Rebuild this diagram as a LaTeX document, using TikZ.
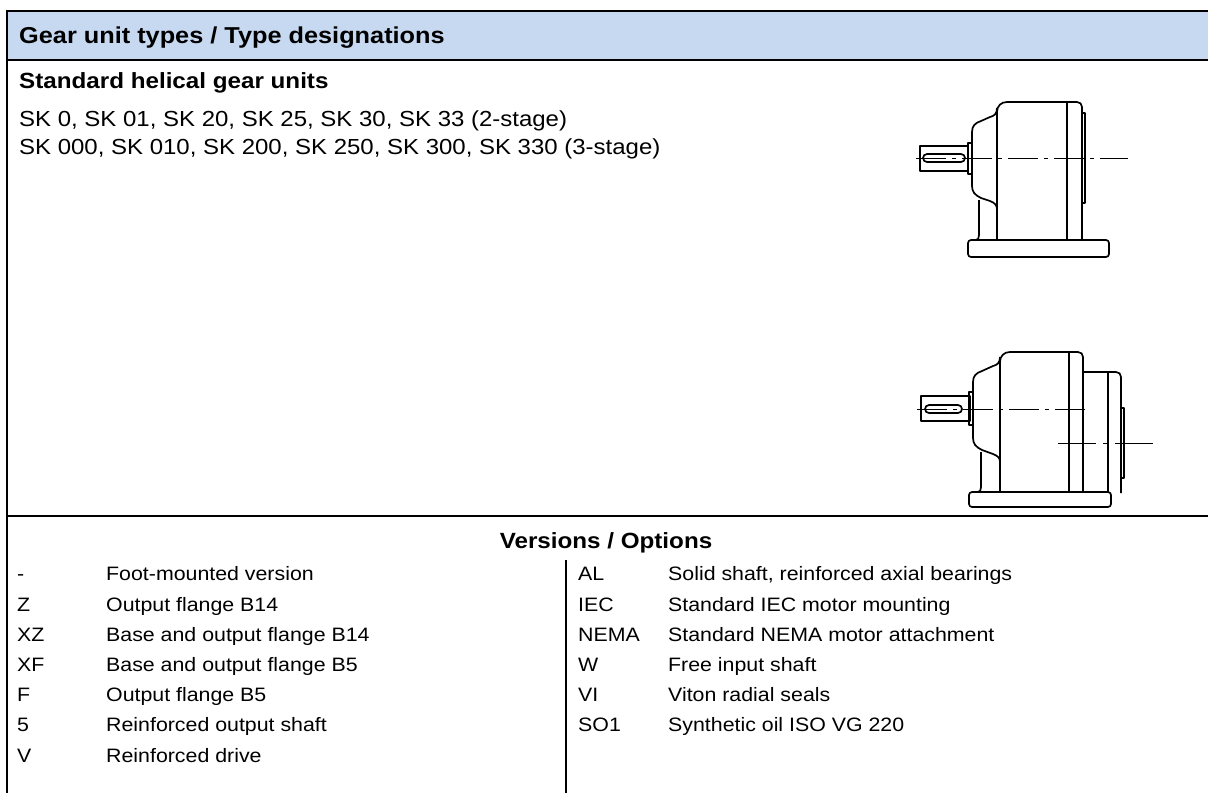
\documentclass[tikz,border=0pt]{standalone}
\usepackage{fontspec}
\setmainfont{Liberation Sans}[FakeStretch=1.1]
\definecolor{hdr}{HTML}{C6D9F1}
\begin{document}
\begin{tikzpicture}[x=1pt,y=-1pt,
  frame/.style={line width=2.5pt},
  gl/.style={line width=1.7pt, line join=round},
  cl/.style={line width=0.9pt, dash pattern=on 30pt off 6pt on 4pt off 6pt},
  txt/.style={anchor=base west, inner sep=0pt, font=\fontsize{21.8}{26}\selectfont},
  btxt/.style={anchor=base west, inner sep=0pt, font=\fontsize{22}{26}\selectfont\bfseries},
  ttxt/.style={anchor=base west, inner sep=0pt, font=\fontsize{19.4}{24}\selectfont}]
\useasboundingbox (0,0) rectangle (1208,793);
% frame
\fill[hdr] (7,11) rectangle (1208,60);
\draw[frame] (1208,11) -- (7,11) -- (7,793);
\draw[frame] (7,60) -- (1208,60);
\draw[frame] (7,516) -- (1208,516);
\draw[line width=2pt] (566,560) -- (566,793);
% texts
\node[btxt, font=\fontsize{23}{26}\selectfont\bfseries] (title) at (19,43) {Gear unit types / Type designations};
\node[btxt] (std) at (19,88) {Standard helical gear units};
\node[txt] (l1) at (19,126) {SK 0, SK 01, SK 20, SK 25, SK 30, SK 33 (2-stage)};
\node[txt] (l2) at (19,154) {SK 000, SK 010, SK 200, SK 250, SK 300, SK 330 (3-stage)};
\node[btxt, anchor=base] (vo) at (606,548) {Versions / Options};
% left column
\foreach \c/\d/\y [count=\i] in {-/Foot-mounted version/580, Z/Output flange B14/611, XZ/Base and output flange B14/641, XF/Base and output flange B5/671, F/Output flange B5/701, 5/Reinforced output shaft/731, V/Reinforced drive/762}{
  \node[ttxt] (lc\i) at (17,\y) {\c};
  \node[ttxt] (ld\i) at (106,\y) {\d};
}
% right column
\foreach \c/\d/\y [count=\i] in {AL/{Solid shaft, reinforced axial bearings}/580, IEC/Standard IEC motor mounting/611, NEMA/Standard NEMA motor attachment/641, W/Free input shaft/671, VI/Viton radial seals/701, SO1/Synthetic oil ISO VG 220/731}{
  \node[ttxt] (rc\i) at (578,\y) {\c};
  \node[ttxt] (rd\i) at (668,\y) {\d};
}
% ---------- gear 1 ----------
\draw[gl] (920,146) rectangle (968,171);
\draw[gl, rounded corners=4pt] (923,154) rectangle (965,162);
\draw[gl] (968,143) rectangle (972,174);
% cover
\draw[gl] (997,108) .. controls (997,114) and (994,116) .. (990,117) -- (981,121)
  .. controls (975,123) and (972,126) .. (972,132) -- (972,186)
  .. controls (972,192) and (975,195) .. (981,198) -- (990,201)
  .. controls (995,203) and (997,205) .. (997,210);
% leg
\draw[gl] (979,200) -- (979,235) .. controls (979,238) and (978,240) .. (976,240);
% body
\draw[gl] (997,240) -- (997,112) .. controls (997,106) and (1001,102) .. (1007,102)
  -- (1077,102) .. controls (1080,102) and (1082,104) .. (1082,107) -- (1082,240);
\draw[gl] (1067,102) -- (1067,240);
\draw[gl] (1082,113) rectangle (1085,203);
\draw[gl, rounded corners=3pt] (968,240) rectangle (1109,257);
\draw[cl] (916,158) -- (1128,158);
% ---------- gear 2 ----------
\draw[gl] (921,396) rectangle (970,421);
\draw[gl, rounded corners=4pt] (925,405) rectangle (962,413);
\draw[gl] (969,392) rectangle (973,425);
\draw[gl] (1000,357) .. controls (1000,363) and (997,365) .. (993,366) -- (982,371)
  .. controls (976,373) and (973,376) .. (973,382) -- (973,438)
  .. controls (973,444) and (976,447) .. (982,450) -- (993,454)
  .. controls (998,456) and (1000,458) .. (1000,462);
\draw[gl] (981,452) -- (981,487) .. controls (981,490) and (980,492) .. (978,492);
\draw[gl] (1000,492) -- (1000,362) .. controls (1000,356) and (1004,352) .. (1010,352)
  -- (1078,352) .. controls (1081,352) and (1083,354) .. (1083,357) -- (1083,492);
\draw[gl] (1069,352) -- (1069,492);
\draw[gl] (1083,372) -- (1116,372) .. controls (1119,372) and (1121,374) .. (1121,377) -- (1121,493);
\draw[gl] (1108,372) -- (1108,492);
\draw[gl] (1121,408) rectangle (1124,478);
\draw[gl, rounded corners=3pt] (969,492) rectangle (1111,507);
\draw[cl] (917,409) -- (1088,409);
\draw[cl, dash pattern=on 38pt off 7pt on 5pt off 7pt] (1058,443) -- (1156,443);
\end{tikzpicture}
\end{document}
